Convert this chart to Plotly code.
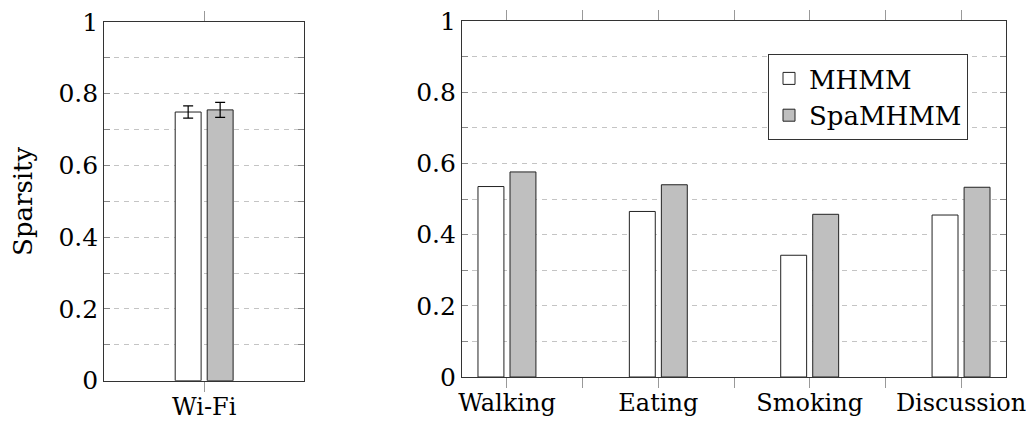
import plotly.graph_objects as go

# ---- data ----
wifi_categories = ["Wi-Fi"]
wifi_mhmm = [0.749]
wifi_mhmm_err = [0.017]
wifi_spa = [0.755]
wifi_spa_err = [0.021]

categories = ["Walking", "Eating", "Smoking", "Discussion"]
mhmm = [0.535, 0.465, 0.342, 0.455]
spamhmm = [0.576, 0.540, 0.457, 0.533]

series_names = ["MHMM", "SpaMHMM"]
y_tickvals = [0, 0.2, 0.4, 0.6, 0.8, 1]
y_ticktext = ["0", "0.2", "0.4", "0.6", "0.8", "1"]

FONT = "DejaVu Serif"
FS = 25
PAGE_OFF = 8              # default body margin of the html page
W, H = 1034 - 2 * PAGE_OFF, 429 - 2 * PAGE_OFF
WHITE_FILL = "white"
GRAY_FILL = "#bfbfbf"
EDGE = "#222222"

fig = go.Figure()

# left panel (Wi-Fi)
fig.add_trace(go.Bar(
    x=list(range(len(wifi_categories))), y=wifi_mhmm, name=series_names[0],
    marker=dict(color=WHITE_FILL, line=dict(color=EDGE, width=1)),
    error_y=dict(type="data", array=wifi_mhmm_err, color="black", thickness=1.2, width=5),
    xaxis="x", yaxis="y", showlegend=False, offsetgroup="a"))
fig.add_trace(go.Bar(
    x=list(range(len(wifi_categories))), y=wifi_spa, name=series_names[1],
    marker=dict(color=GRAY_FILL, line=dict(color=EDGE, width=1)),
    error_y=dict(type="data", array=wifi_spa_err, color="black", thickness=1.2, width=5),
    xaxis="x", yaxis="y", showlegend=False, offsetgroup="b"))

# right panel
fig.add_trace(go.Bar(
    x=list(range(len(categories))), y=mhmm, name=series_names[0],
    marker=dict(color=WHITE_FILL, line=dict(color=EDGE, width=1)),
    xaxis="x2", yaxis="y2", offsetgroup="a"))
fig.add_trace(go.Bar(
    x=list(range(len(categories))), y=spamhmm, name=series_names[1],
    marker=dict(color=GRAY_FILL, line=dict(color=EDGE, width=1)),
    xaxis="x2", yaxis="y2", offsetgroup="b"))

def px_x(p):
    return (p - PAGE_OFF) / W

def px_y(p):
    return 1 - (p - PAGE_OFF) / H

grid_common = dict(
    showgrid=True, gridcolor="#c4c4c4", gridwidth=1, griddash="5px,5px",
    minor=dict(dtick=0.1, tick0=0, showgrid=True, gridcolor="#c4c4c4",
               griddash="5px,5px", ticks="inside", ticklen=6, tickcolor="#888"),
)

yaxis_common = dict(
    range=[0, 1], tickvals=y_tickvals, ticktext=y_ticktext,
    ticks="inside", ticklen=6, tickcolor="#888",
    showline=True, linecolor="#333", linewidth=1.2, mirror="ticks",
    zeroline=False, automargin=False, ticklabeloverflow="allow",
    tickfont=dict(family=FONT, size=FS, color="black"),
    **grid_common,
)

xaxis_common = dict(
    showline=True, linecolor="#333", linewidth=1.2, mirror="ticks",
    ticks="outside", ticklen=10, tickcolor="#999", showgrid=False, zeroline=False,
    automargin=False, ticklabeloverflow="allow", ticklabelstandoff=-6,
    tickfont=dict(family=FONT, size=24, color="black"),
)

fig.update_layout(
    width=W, height=H,
    margin=dict(l=0, r=0, t=0, b=0, autoexpand=False),
    paper_bgcolor="white", plot_bgcolor="white",
    barmode="group", bargap=0.577, bargroupgap=0.19,
    font=dict(family=FONT, color="black", size=FS),
    xaxis=dict(domain=[px_x(104.3), px_x(304)], anchor="y",
               range=[-0.66, 0.66], tickvals=list(range(len(wifi_categories))),
               ticktext=wifi_categories, **xaxis_common),
    yaxis=dict(domain=[px_y(380.7), px_y(22)], anchor="x",
               title=dict(text="Sparsity", font=dict(family=FONT, size=FS + 1, color="black"), standoff=20),
               **yaxis_common),
    xaxis2=dict(domain=[px_x(462), px_x(1006)], anchor="y2",
                range=[-0.297, 3.297], tickvals=list(range(len(categories))),
                ticktext=categories,
                minor=dict(dtick=0.5, tick0=0, ticks="outside", ticklen=10, tickcolor="#999"),
                **xaxis_common),
    yaxis2=dict(domain=[px_y(377), px_y(21)], anchor="x2", **yaxis_common),
    legend=dict(x=px_x(768), y=px_y(54), xanchor="left", yanchor="top",
                bordercolor="#333", borderwidth=1, bgcolor="white",
                font=dict(family=FONT, size=FS + 1, color="black"),
                itemwidth=30, tracegroupgap=4),
)

fig.write_html("out.html")
